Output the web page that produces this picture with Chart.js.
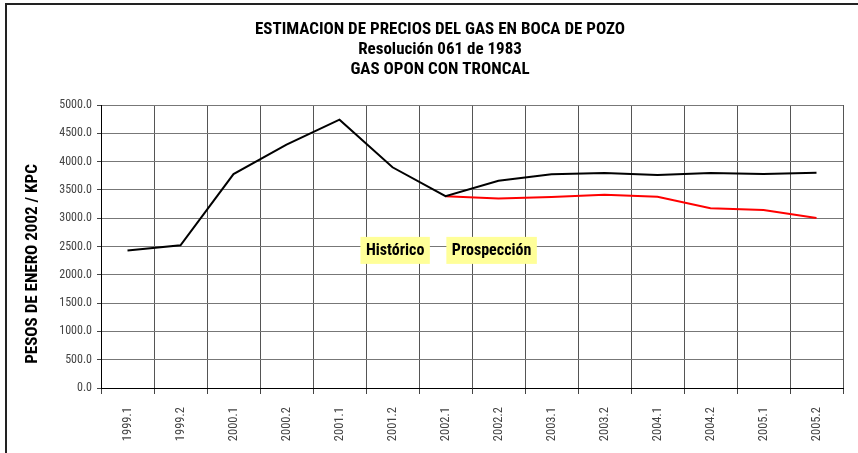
<!DOCTYPE html>
<html>
<head>
<meta charset="utf-8">
<script src="https://cdn.jsdelivr.net/npm/chart.js@4"></script>
<style>
  html, body { margin: 0; padding: 0; background: #fff; }
  #marco { position: absolute; left: 5px; top: 3px; width: 900px; height: 500px;
           border-left: 2px solid #222; border-top: 2px solid #222; }
  #caja { position: absolute; left: 0; top: 0; width: 858px; height: 453px; }
</style>
</head>
<body>
<div id="marco"></div>
<div id="caja"><canvas id="chartGas" width="858" height="453"></canvas></div>
<script>
// ================= DATOS =================
const periodos = ["1999.1", "1999.2", "2000.1", "2000.2", "2001.1", "2001.2", "2002.1",
  "2002.2", "2003.1", "2003.2", "2004.1", "2004.2", "2005.1", "2005.2"];

// historico + continuacion (linea negra)
const precioBase = [2430, 2520, 3780, 4300, 4740, 3900, 3390,
  3660, 3775, 3800, 3765, 3800, 3780, 3805];

// prospeccion (linea roja), parte desde 2002.1
const precioProspeccion = [null, null, null, null, null, null, 3390,
  3350, 3375, 3415, 3380, 3175, 3145, 3005];

const ticksY = [0, 500, 1000, 1500, 2000, 2500, 3000, 3500, 4000, 4500, 5000];

const titulo = ["ESTIMACION DE PRECIOS DEL GAS EN BOCA DE POZO", "Resolución 061 de 1983", "GAS OPON CON TRONCAL"];
const tituloEje = "PESOS DE ENERO 2002 / KPC";

const etiquetas = [
  { texto: "Histórico", indice: 5.05, valor: 2440 },
  { texto: "Prospección", indice: 6.87, valor: 2440 },
];

const fuente = "'Roboto Condensed', Roboto, sans-serif";

// titulo general y titulo del eje Y (Excel los centra un poco corridos)
const titulosPlugin = {
  id: "titulos",
  afterDraw(chart) {
    const { ctx } = chart;
    ctx.save();
    ctx.fillStyle = "#000";
    ctx.textAlign = "center";
    ctx.textBaseline = "middle";
    ctx.font = "bold 17px " + fuente;
    titulo.forEach((t, i) => ctx.fillText(t, 440, 30 + i * 20));
    ctx.translate(33, 264);
    ctx.rotate(-Math.PI / 2);
    ctx.font = "bold 17px " + fuente;
    ctx.fillText(tituloEje, 0, 0);
    ctx.restore();
  },
};

// etiquetas amarillas sobre el area del grafico
const etiquetasPlugin = {
  id: "etiquetas",
  afterDatasetsDraw(chart) {
    const { ctx, scales } = chart;
    ctx.save();
    ctx.font = "bold 16px " + fuente;
    ctx.textAlign = "center";
    ctx.textBaseline = "middle";
    etiquetas.forEach((e) => {
      const x = scales.x.getPixelForValue(e.indice);
      const y = scales.y.getPixelForValue(e.valor);
      const w = ctx.measureText(e.texto).width + 11;
      ctx.fillStyle = "#ffff99";
      ctx.fillRect(x - w / 2, y - 13, w, 27);
      ctx.fillStyle = "#000";
      ctx.fillText(e.texto, x, y + 1);
    });
    ctx.restore();
  },
};

new Chart(document.getElementById("chartGas").getContext("2d"), {
  type: "line",
  data: {
    labels: periodos,
    datasets: [
      {
        label: "Prospección",
        data: precioProspeccion,
        borderColor: "#ff0000",
        borderWidth: 2,
        pointRadius: 0,
        tension: 0,
        order: 2,
      },
      {
        label: "Histórico",
        data: precioBase,
        borderColor: "#000000",
        borderWidth: 2,
        pointRadius: 0,
        tension: 0,
        order: 1,
      },
    ],
  },
  options: {
    responsive: false,
    animation: false,
    layout: { padding: { left: 0, right: 15, top: 105, bottom: 0 } },
    plugins: {
      legend: { display: false },
      tooltip: { enabled: false },
      title: { display: false },
    },
    scales: {
      x: {
        offset: true,
        grid: { offset: true, color: "#555", lineWidth: 1, tickLength: 6, tickColor: "#444" },
        border: { color: "#000", width: 1 },
        ticks: {
          color: "#444",
          font: { family: fuente, size: 12.5 },
          minRotation: 90,
          maxRotation: 90,
          autoSkip: false,
          padding: 13,
        },
        afterFit(s) { s.height = 65; },
      },
      y: {
        min: 0,
        max: 5000,
        afterBuildTicks(s) { s.ticks = ticksY.map((v) => ({ value: v })); },
        grid: { color: "#777", lineWidth: 1, tickLength: 4, tickColor: "#444" },
        border: { color: "#000", width: 1 },
        ticks: {
          color: "#444",
          font: { family: fuente, size: 12 },
          padding: 5,
          callback: (v) => Number(v).toFixed(1),
        },
        afterFit(s) { s.width = 101; },
      },
    },
  },
  plugins: [etiquetasPlugin, titulosPlugin],
});
</script>
</body>
</html>
